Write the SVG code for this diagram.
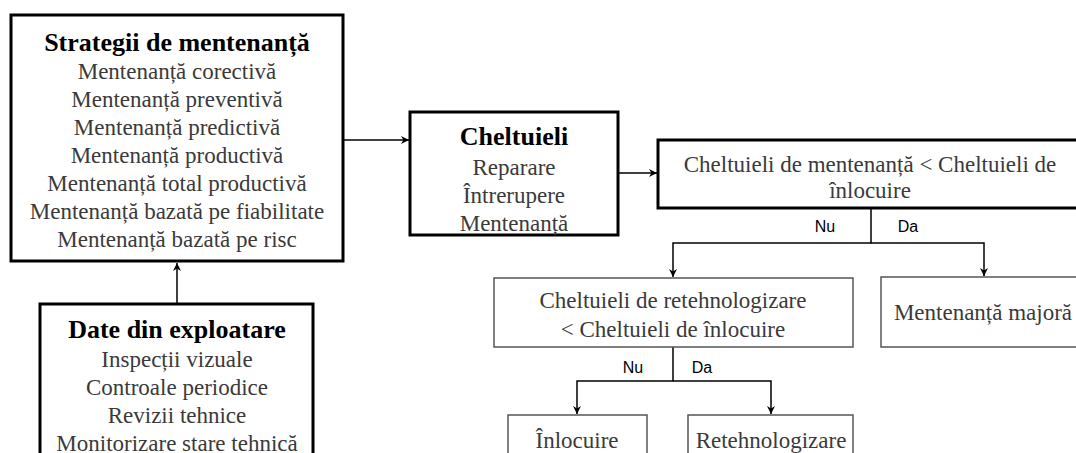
<svg xmlns="http://www.w3.org/2000/svg" width="1076" height="453" viewBox="0 0 1076 453">
<defs>
<marker id="ah" viewBox="0 0 10 10" refX="10" refY="5" markerWidth="8" markerHeight="8" markerUnits="userSpaceOnUse" orient="auto">
<path d="M0,0 L10,5 L0,10 L3,5 Z" fill="#000"/>
</marker>
<style>
.thick{fill:#fff;stroke:#000;stroke-width:3}
.thin{fill:#fff;stroke:#555;stroke-width:1.5}
.t{font-family:"Liberation Serif","Times New Roman",serif;font-size:23px;fill:#3a3a3a;text-anchor:middle}
.b{font-family:"Liberation Serif","Times New Roman",serif;font-size:26px;font-weight:bold;fill:#000;text-anchor:middle}
.l{font-family:"Liberation Sans",Arial,sans-serif;font-size:16px;fill:#000;text-anchor:middle}
.c{fill:none;stroke:#000;stroke-width:1.5}
</style>
</defs>
<rect width="1076" height="453" fill="#fff"/>
<g id="connectors">
<line class="c" x1="344" y1="140" x2="409" y2="140" marker-end="url(#ah)"/>
<line class="c" x1="177" y1="303" x2="177" y2="263" marker-end="url(#ah)"/>
<line class="c" x1="619" y1="173" x2="657" y2="173" marker-end="url(#ah)"/>
<polyline class="c" points="871,209 871,243 673,243 673,277" marker-end="url(#ah)"/>
<polyline class="c" points="871,243 984,243 984,276" marker-end="url(#ah)"/>
<polyline class="c" points="673,347 673,381 577,381 577,414" marker-end="url(#ah)"/>
<polyline class="c" points="673,381 771,381 771,414" marker-end="url(#ah)"/>
<text class="l" x="825" y="232">Nu</text>
<text class="l" x="908" y="232">Da</text>
<text class="l" x="633" y="373">Nu</text>
<text class="l" x="702" y="373">Da</text>
</g>
<g id="strategii">
<rect class="thick" x="11" y="15" width="332" height="246"/>
<text class="b" x="177" y="51">Strategii de mentenanță</text>
<text class="t" x="177" y="79">Mentenanță corectivă</text>
<text class="t" x="177" y="107">Mentenanță preventivă</text>
<text class="t" x="177" y="135">Mentenanță predictivă</text>
<text class="t" x="177" y="163">Mentenanță productivă</text>
<text class="t" x="177" y="191">Mentenanță total productivă</text>
<text class="t" x="177" y="219">Mentenanță bazată pe fiabilitate</text>
<text class="t" x="177" y="247">Mentenanță bazată pe risc</text>
</g>
<g id="date">
<rect class="thick" x="40" y="304" width="273" height="170"/>
<text class="b" x="177" y="338">Date din exploatare</text>
<text class="t" x="177" y="367">Inspecții vizuale</text>
<text class="t" x="177" y="395">Controale periodice</text>
<text class="t" x="177" y="423">Revizii tehnice</text>
<text class="t" x="177" y="451">Monitorizare stare tehnică</text>
</g>
<g id="cheltuieli">
<rect class="thick" x="410" y="112" width="208" height="123"/>
<text class="b" x="514" y="145">Cheltuieli</text>
<text class="t" x="514" y="175">Reparare</text>
<text class="t" x="514" y="203">Întrerupere</text>
<text class="t" x="514" y="231">Mentenanță</text>
</g>
<g id="decizie1">
<rect class="thick" x="658" y="140" width="430" height="68"/>
<text class="t" x="870" y="172">Cheltuieli de mentenanță &lt; Cheltuieli de</text>
<text class="t" x="870" y="198">înlocuire</text>
</g>
<g id="decizie2">
<rect class="thin" x="494" y="278" width="359" height="69"/>
<text class="t" x="673" y="308">Cheltuieli de retehnologizare</text>
<text class="t" x="673" y="337">&lt; Cheltuieli de înlocuire</text>
</g>
<g id="majora">
<rect class="thin" x="881" y="277" width="210" height="70"/>
<text class="t" x="983" y="320">Mentenanță majoră</text>
</g>
<g id="inlocuire">
<rect class="thin" x="508" y="415" width="139" height="60"/>
<text class="t" x="577" y="448">Înlocuire</text>
</g>
<g id="retehnologizare">
<rect class="thin" x="688" y="415" width="165" height="60"/>
<text class="t" x="771" y="448">Retehnologizare</text>
</g>
</svg>
